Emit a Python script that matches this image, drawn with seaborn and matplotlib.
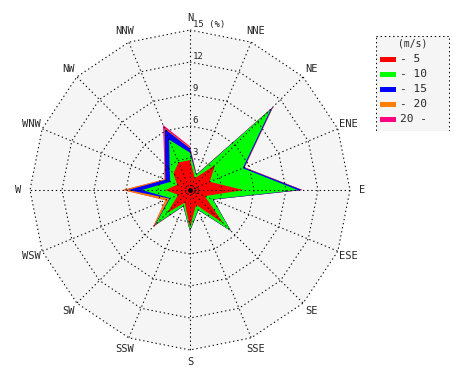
import numpy as np
import matplotlib
matplotlib.use("Agg")
import matplotlib.pyplot as plt
import seaborn as sns
from matplotlib.patches import Rectangle, Polygon

sns.set_style("white")
plt.rcParams['font.family'] = ['DejaVu Sans Mono']

# ---- data (percent frequency per speed bin) ----
directions = ["N", "NNE", "NE", "ENE", "E", "ESE", "SE", "SSE",
              "S", "SSW", "SW", "WSW", "W", "WNW", "NW", "NNW"]
bin_labels = ["- 5", "- 10", "- 15", "- 20", "20 -"]
bin_colors = ["#ff0000", "#00ff00", "#0000ff", "#ff8000", "#ff0080"]
speed_0_5 = [2.8, 1.2, 3.3, 2.0, 5.0, 1.5, 4.4, 1.5, 3.5, 1.3, 3.0, 1.2, 2.3, 1.3, 2.2, 2.8]
speed_5_10 = [0.7, 0.3, 7.4, 3.35, 5.1, 0.8, 1.0, 0.5, 0.3, 0.3, 1.6, 0.8, 2.2, 0.7, 0.5, 2.3]
speed_10_15 = [0.4, 0.05, 0.25, 0.15, 0.4, 0.05, 0.05, 0.05, 0.05, 0.05, 0.1, 0.1, 1.3, 0.5, 0.6, 1.1]
speed_15_20 = [0.1, 0.05, 0.1, 0.05, 0.05, 0.0, 0.0, 0.0, 0.0, 0.0, 0.2, 0.4, 0.5, 0.1, 0.05, 0.1]
speed_20_up = [0.1, 0.0, 0.0, 0.0, 0.0, 0.0, 0.0, 0.0, 0.0, 0.0, 0.0, 0.0, 0.0, 0.0, 0.05, 0.3]
ring_values = [3, 6, 9, 12, 15]
ring_labels = ["3", "6", "9", "12", "15 (%)"]
legend_title = "(m/s)"

bins = [speed_0_5, speed_5_10, speed_10_15, speed_15_20, speed_20_up]
cum = np.cumsum(np.array(bins), axis=0)

# ---- figure: 470x380 px, center (190,190), 15% -> 160 px ----
W, H = 470, 380
cx, cy = 190, 190
scale = 160 / 15.0
fig = plt.figure(figsize=(W / 100, H / 100), dpi=100)
ax = fig.add_axes([0, 0, 1, 1])
ax.set_xlim(-cx / scale, (W - cx) / scale)
ax.set_ylim(-(H - cy) / scale, cy / scale)
ax.set_aspect('equal')
ax.axis('off')

n = len(directions)
theta = np.deg2rad(np.arange(n) * 360.0 / n)
sx, sy = np.sin(theta), np.cos(theta)

# background polygon
outer = np.column_stack([15 * sx, 15 * sy])
ax.add_patch(Polygon(outer, closed=True, facecolor="#f5f5f5", edgecolor='none', zorder=0))

# stacked areas, largest first
for k in range(len(bins) - 1, -1, -1):
    r = cum[k]
    pts = np.column_stack([r * sx, r * sy])
    ax.fill(pts[:, 0], pts[:, 1], color=bin_colors[k], lw=0, zorder=1 + (len(bins) - k))

# grid
dots = (0, (1.3, 2.7))
glw = 0.75
for rv in ring_values:
    xs = np.append(rv * sx, rv * sx[0])
    ys = np.append(rv * sy, rv * sy[0])
    ax.plot(xs, ys, color='black', lw=glw, ls=dots, zorder=10)
for i in range(n):
    ax.plot([0, 15 * sx[i]], [0, 15 * sy[i]], color='black', lw=glw, ls=dots, zorder=10)
ax.plot([0], [0], marker='o', ms=2.5, color='black', zorder=11)

# ring labels
for rv, lab in zip(ring_values, ring_labels):
    ax.text(0.25, rv + 0.1, lab, fontsize=6.5, ha='left', va='bottom', zorder=12)
ax.text(0.3, -0.1, "0", fontsize=6.5, ha='left', va='center', zorder=12)

# direction labels
for i, d in enumerate(directions):
    ax.text(16.1 * sx[i], 16.1 * sy[i], d, fontsize=7.5, ha='center', va='center')

# ---- legend ----
lx0, ly0, lw_, lh_ = 375, 35, 75, 96
lax = fig.add_axes([lx0 / W, 1 - (ly0 + lh_) / H, lw_ / W, lh_ / H])
lax.set_xlim(0, lw_)
lax.set_ylim(lh_, 0)
lax.axis('off')
lax.add_patch(Rectangle((0.5, 0.5), lw_ - 1, lh_ - 1, facecolor="#f5f5f5",
                        edgecolor='black', lw=glw, ls=dots))
lax.text(lw_ / 2, 9, legend_title, fontsize=7, ha='center', va='center')
for j, (lab, col) in enumerate(zip(bin_labels, bin_colors)):
    yy = 24 + 15 * j
    lax.add_patch(Rectangle((5, yy - 2.5), 16, 5, facecolor=col, edgecolor='none'))
    lax.text(25, yy, lab, fontsize=8, ha='left', va='center')

fig.savefig("out.png", dpi=100)
